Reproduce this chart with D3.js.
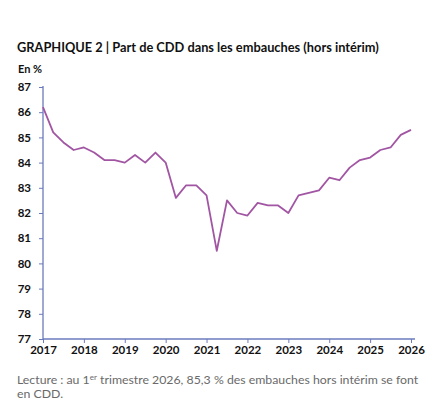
<!DOCTYPE html>
<meta charset="utf-8">
<style>
  body { margin: 0; background: #fff; }
  text { font-family: Lato, "Open Sans", sans-serif; }
  text.title { font-size: 12.8px; font-weight: bold; fill: #111; }
  text.unit { font-size: 11px; font-weight: bold; fill: #111; }
  .axis text { font-size: 11.5px; font-weight: bold; fill: #111; }
  text.note { font-size: 12.3px; fill: #6a6a6a; }
</style>
<script src="https://d3js.org/d3.v7.min.js"></script>
<div id="chart"></div>
<script>
// quarterly share of CDD in hires, 2017 T1 -> 2026 T1
var years = [2017, 2018, 2019, 2020, 2021, 2022, 2023, 2024, 2025, 2026];
var yTicks = [77, 78, 79, 80, 81, 82, 83, 84, 85, 86, 87];
var values = [
  86.2, 85.2, 84.8, 84.5,
  84.6, 84.4, 84.1, 84.1,
  84.0, 84.3, 84.0, 84.4,
  84.0, 82.6, 83.1, 83.1,
  82.7, 80.5, 82.5, 82.0,
  81.9, 82.4, 82.3, 82.3,
  82.0, 82.7, 82.8, 82.9,
  83.4, 83.3, 83.8, 84.1,
  84.2, 84.5, 84.6, 85.1,
  85.3
];
var data = values.map(function(v, i) { return { t: 2017 + i / 4, v: v }; });

var W = 445, H = 413;
var svg = d3.select("#chart").append("svg")
  .attr("width", W).attr("height", H);

svg.append("text").attr("class", "title")
  .attr("x", 17).attr("y", 52)
  .text("GRAPHIQUE 2 | Part de CDD dans les embauches (hors intérim)");

svg.append("text").attr("class", "unit")
  .attr("x", 18).attr("y", 73)
  .text("En %");

var x = d3.scaleLinear().domain([2017, 2026]).range([43, 411]);
var y = d3.scaleLinear().domain([77, 87]).range([339, 87]);

var axisColor = "#6a7bbd";

// y axis
var gy = svg.append("g").attr("class", "axis")
  .attr("transform", "translate(43,0)")
  .call(d3.axisLeft(y).tickValues(yTicks).tickSize(4).tickPadding(8));
gy.select(".domain").attr("stroke", axisColor).attr("stroke-width", 1.3)
  .attr("d", "M0," + (y(87) - 1) + "V" + y(77));
gy.selectAll(".tick line").attr("stroke", axisColor);

// x axis
var gx = svg.append("g").attr("class", "axis")
  .attr("transform", "translate(0,339)")
  .call(d3.axisBottom(x).tickValues(years).tickFormat(d3.format("d")).tickSize(4).tickPadding(3));
gx.select(".domain").attr("stroke", axisColor).attr("stroke-width", 1.3)
  .attr("d", "M43,0H415");
gx.selectAll(".tick line").attr("stroke", axisColor);

// line
svg.append("path")
  .datum(data)
  .attr("fill", "none")
  .attr("stroke", "#a155a3")
  .attr("stroke-width", 1.8)
  .attr("stroke-linejoin", "round")
  .attr("d", d3.line().x(function(d) { return x(d.t); }).y(function(d) { return y(d.v); }));

// reading note
var note1 = svg.append("text").attr("class", "note").attr("x", 17).attr("y", 384);
note1.append("tspan").text("Lecture\u202F: au 1");
note1.append("tspan").attr("dy", -4).attr("font-size", "8px").text("er");
note1.append("tspan").attr("dy", 4).text(" trimestre 2026, 85,3\u00A0% des embauches hors intérim se font");
svg.append("text").attr("class", "note").attr("x", 17).attr("y", 398).text("en CDD.");
</script>
